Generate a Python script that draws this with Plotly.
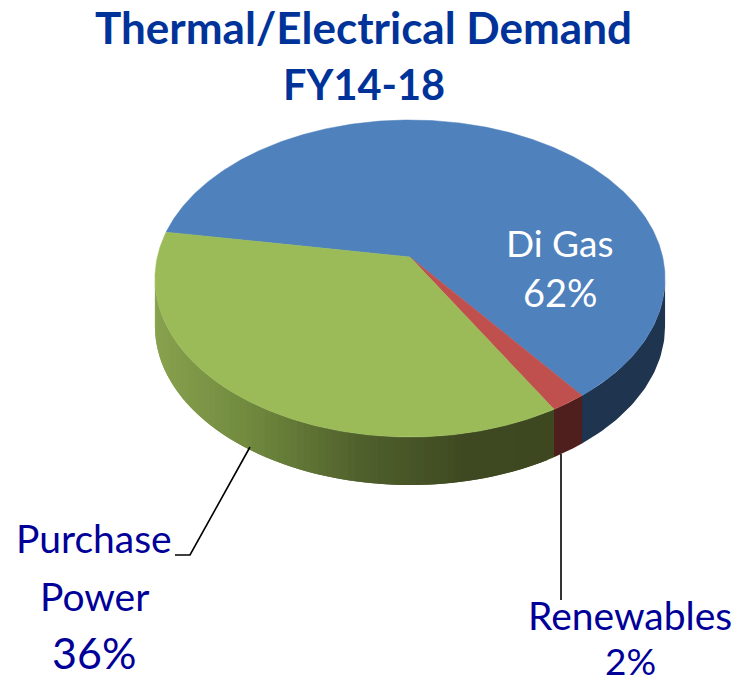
import math
import plotly.graph_objects as go

# Data
categories = ["Di Gas", "Renewables", "Purchase Power"]
shares = [62, 2, 36]
top_colors = ["#4f81bd", "#c0504d", "#9bbb59"]
title_lines = ["Thermal/Electrical Demand", "FY14-18"]

# Projection of the tilted disc onto the page (pixel-based axes)
W, H = 749, 683
CX, CY = 410.0, 257.0
A, B, K = 252.7, 155.6, 0.1356
DEPTH = 48.0
START_DEG = 279.4


def project(deg, drop=0.0):
    r = math.radians(deg)
    u, v = math.sin(r), -math.cos(r)
    d = 1 - K * v
    return CX + A * u / d, CY + B * v / d + drop


def side_color(i, x):
    if i == 0:
        return "#1f344f"
    if i == 1:
        return "#4f1f1d"
    stops = [(155, (136, 162, 78)), (250, (112, 137, 62)), (360, (80, 96, 44)),
             (470, (62, 72, 33)), (560, (62, 72, 32))]
    for (x0, c0), (x1, c1) in zip(stops, stops[1:]):
        if x <= x1:
            t = max(0.0, (x - x0) / (x1 - x0))
            return "rgb(%d,%d,%d)" % tuple(round(a + (b - a) * t) for a, b in zip(c0, c1))
    return "rgb(62,72,32)"


edges = [START_DEG]
for s in shares:
    edges.append(edges[-1] + s * 3.6)

fig = go.Figure()
right_extreme = math.degrees(math.acos(-K))
left_extreme = 360 - right_extreme

# Side wall, in strips (each overlaps the next, so no seams show)
for i in range(len(shares)):
    a0, a1 = edges[i], edges[i + 1]
    segs = []
    for off in (-360, 0, 360):
        s0 = max(a0 + off, right_extreme)
        s1 = min(a1 + off, left_extreme)
        if s1 > s0:
            segs.append((s0, s1))
    for s0, s1 in segs:
        n = 1 if i < 2 else max(1, int((s1 - s0) / 1.5))
        step = (s1 - s0) / n
        for j in range(n):
            b0 = s0 + step * j
            b1 = min(s1, b0 + step * 2)
            m = 12
            angs = [b0 + (b1 - b0) * q / (m - 1) for q in range(m)]
            if i < 2:
                m = 40
                angs = [s0 + (s1 - s0) * q / (m - 1) for q in range(m)]
            top = [project(q) for q in angs]
            bot = [project(q, DEPTH) for q in reversed(angs)]
            pts = top + bot + [top[0]]
            xmid = project(b0 + step / 2)[0]
            c = side_color(i, xmid)
            fig.add_trace(go.Scatter(
                x=[p[0] for p in pts], y=[p[1] for p in pts], mode="lines",
                fill="toself", fillcolor=c, line=dict(color=c, width=0),
                hoverinfo="skip", showlegend=False))

# Top face
for i, name in enumerate(categories):
    a0, a1 = edges[i], edges[i + 1]
    m = max(2, int((a1 - a0) * 2))
    pts = [(CX, CY)] + [project(a0 + (a1 - a0) * q / (m - 1)) for q in range(m)] + [(CX, CY)]
    fig.add_trace(go.Scatter(
        x=[p[0] for p in pts], y=[p[1] for p in pts], mode="lines", name=name,
        fill="toself", fillcolor=top_colors[i], line=dict(color=top_colors[i], width=0.5),
        hoverinfo="name", showlegend=False))

# Leader lines
LINE = dict(color="#000000", width=1.6)
fig.add_trace(go.Scatter(x=[250, 190, 175], y=[447, 555, 555], mode="lines", line=LINE,
                         hoverinfo="skip", showlegend=False))
fig.add_trace(go.Scatter(x=[561, 561], y=[454, 600], mode="lines", line=LINE,
                         hoverinfo="skip", showlegend=False))

TITLE = "#003399"
LBL = "#000099"
FONT = "Lato"
texts = [
    (title_lines[0], 363, 27, 44, TITLE, True),
    (title_lines[1], 364, 84, 41.5, TITLE, True),
    (categories[0], 559, 242, 37, "#ffffff", False),
    ("%d%%" % shares[0], 560, 292, 38, "#ffffff", False),
    ("Purchase", 94, 538, 39, LBL, False),
    ("Power", 94, 596, 39, LBL, False),
    ("%d%%" % shares[2], 94, 652, 43, LBL, False),
    (categories[1], 630, 615, 39, LBL, False),
    ("%d%%" % shares[1], 630, 660.5, 37, LBL, False),
]
for t, x, y, size, col, bold in texts:
    fig.add_annotation(x=x, y=y, xref="x", yref="y", text=("<b>%s</b>" % t) if bold else t,
                       showarrow=False, xanchor="center", yanchor="middle",
                       font=dict(family=FONT, size=size, color=col))

fig.update_xaxes(range=[0, W], visible=False, fixedrange=True)
fig.update_yaxes(range=[H, 0], visible=False, fixedrange=True)
fig.update_layout(width=W, height=H, margin=dict(l=0, r=0, t=0, b=0),
                  paper_bgcolor="#ffffff", plot_bgcolor="#ffffff", showlegend=False)
fig.write_html("out.html", config={"displayModeBar": False},
               post_script="document.body.style.margin='0';document.body.style.overflow='hidden';")
